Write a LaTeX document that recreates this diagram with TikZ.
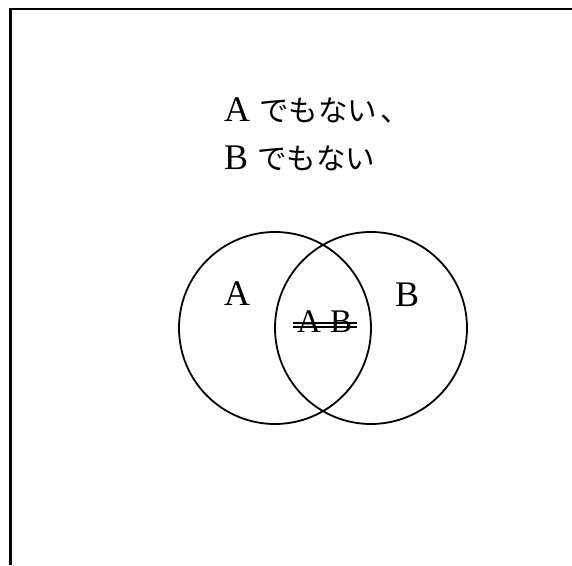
\documentclass[tikz,border=0pt]{standalone}
\usepackage{fontspec}
\setmainfont{Liberation Serif}
\newfontfamily\cjk{Noto Sans CJK JP}
\tikzset{
  frameline/.style={line width=2.2pt, black},
  setcircle/.style={draw, circle, line width=1.8pt, minimum size=192pt, inner sep=0pt},
  lbl/.style={inner sep=0pt, font=\fontsize{36}{36}\selectfont},
  jtext/.style={inner sep=0pt, anchor=base west},
  strike/.style={line width=1.6pt}
}
\begin{document}
\begin{tikzpicture}[x=1pt,y=1pt]
\useasboundingbox (0,0) rectangle (572,565);
\coordinate (fTL) at (10.5,556);
\coordinate (fTR) at (572,556);
\coordinate (fBL) at (10.5,0);
\draw[frameline] (fTR) -- (fTL) -- (fBL);
\node[setcircle] (cA) at (275,237) {};
\node[setcircle] (cB) at (371,237) {};
\node[jtext] (t1) at (224,443.5) {\fontsize{36}{36}\selectfont A\hspace{9pt}{\cjk\fontsize{29.5}{29.5}\selectfont でもない\hspace{3pt}、}};
\node[jtext] (t2) at (224,395) {\fontsize{36}{36}\selectfont B\hspace{9pt}{\cjk\fontsize{29.5}{29.5}\selectfont でもない}};
\node[lbl, anchor=base west] (la) at (224,259) {A};
\node[lbl, anchor=base west] (lb) at (395,258) {B};
\node[lbl, anchor=base west, font=\fontsize{33}{33}\selectfont] (lab) at (297,232) {A\hspace{9pt}B};
\draw[strike] ([xshift=-4pt,yshift=10pt]lab.base west) -- ([xshift=5pt,yshift=10pt]lab.base east);
\draw[strike] ([xshift=-4pt,yshift=6pt]lab.base west) -- ([xshift=5pt,yshift=6pt]lab.base east);
\end{tikzpicture}
\end{document}
